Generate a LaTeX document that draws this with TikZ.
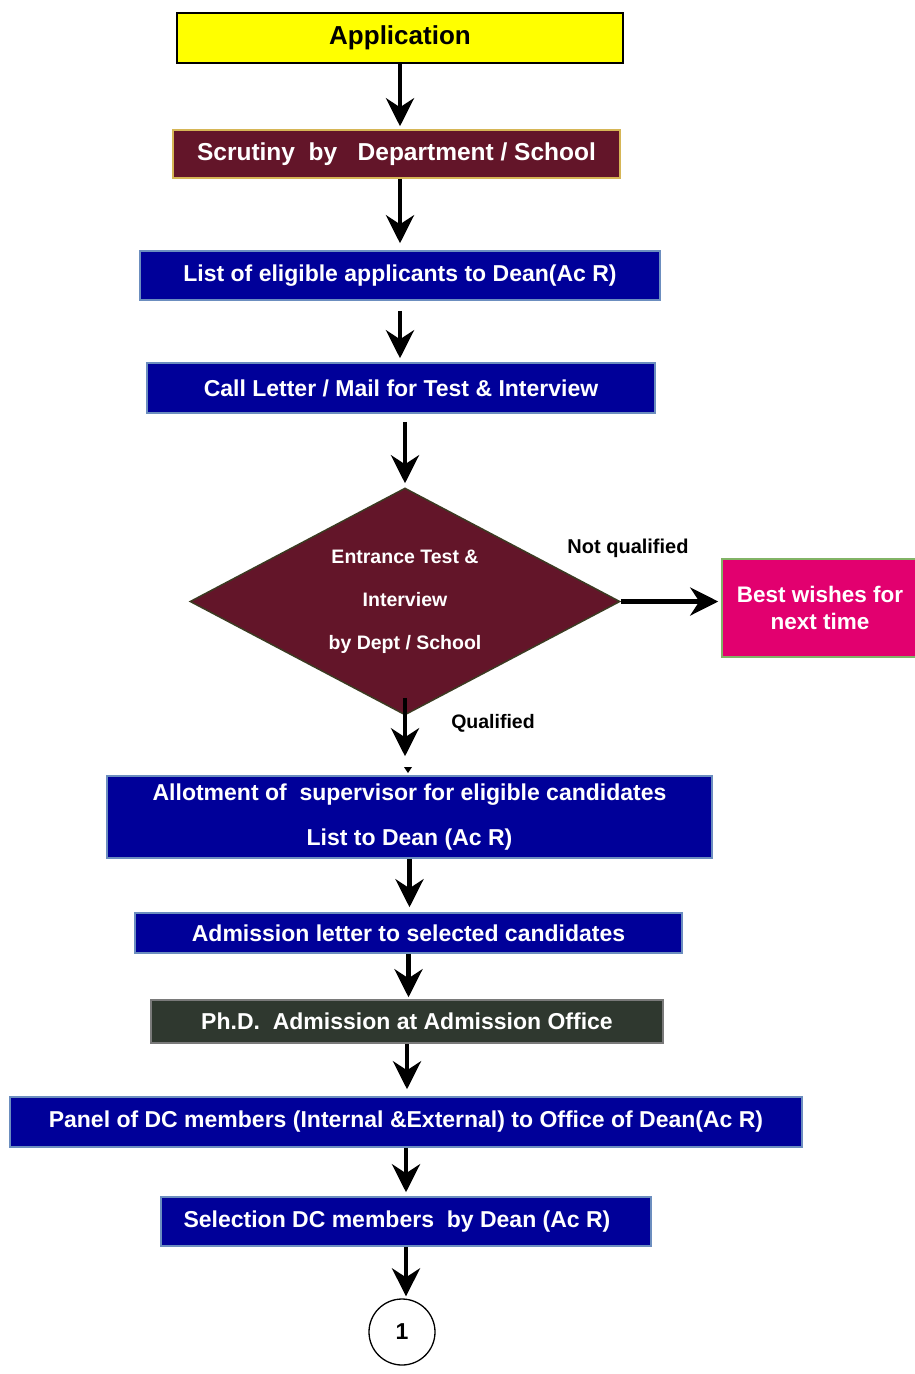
\documentclass[tikz,border=0pt]{standalone}
\usepackage{fontspec}
\setmainfont{Liberation Sans}
\usetikzlibrary{shapes.geometric,arrows.meta}
\definecolor{yel}{HTML}{FFFF00}
\definecolor{maroon}{HTML}{631529}
\definecolor{goldb}{HTML}{D6B656}
\definecolor{bluef}{HTML}{000099}
\definecolor{blueb}{HTML}{6C8EBF}
\definecolor{pinkf}{HTML}{E2006F}
\definecolor{greenb}{HTML}{82B366}
\definecolor{darkf}{HTML}{2F382F}
\definecolor{darkb}{HTML}{7A7A7A}
\definecolor{diab}{HTML}{3C3A22}
\begin{document}
\begin{tikzpicture}[x=1pt,y=-1pt,
  box/.style={draw, line width=1.5pt, inner sep=0pt, align=center, text=white,
    font=\fontsize{23}{27}\selectfont\bfseries},
  bluebox/.style={box, fill=bluef, draw=blueb},
  lbl/.style={inner sep=0pt, text=black, font=\fontsize{20}{24}\selectfont\bfseries},
  arr/.style={line width=4.5pt, -{Stealth[length=28pt,width=28pt,inset=9pt]}}]
\useasboundingbox[fill=white] (0,0) rectangle (915,1374);

\node[box, fill=yel, draw=black, text=black, minimum width=446pt, minimum height=50pt,
  font=\fontsize{26}{30}\selectfont\bfseries] (app) at (400,38) {Application};
\node[box, fill=maroon, draw=goldb, minimum width=447pt, minimum height=48pt,
  font=\fontsize{24.5}{28}\selectfont\bfseries] (scr) at (396.5,154) {Scrutiny\ \ by\ \ \ Department / School};
\node[bluebox, minimum width=520pt, minimum height=49pt] (list) at (400,275.5) {List of eligible applicants to Dean(Ac R)};
\node[bluebox, minimum width=508pt, minimum height=50pt] (call) at (401,388) {Call Letter / Mail for Test \& Interview};
\node[diamond, aspect=1.9, draw=diab, line width=1.5pt, fill=maroon, minimum width=430pt, minimum height=227pt,
  inner sep=0pt, align=center, text=white, font=\fontsize{19.5}{43}\selectfont\bfseries]
  (dia) at (405,601.5) {Entrance Test \&\\Interview\\by Dept / School};
\node[box, fill=pinkf, draw=greenb, minimum width=196pt, minimum height=98pt,
  font=\fontsize{22.5}{27}\selectfont\bfseries] (best) at (820,608) {Best wishes for\\next time};
\node[bluebox, minimum width=605pt, minimum height=82pt, font=\fontsize{23}{45}\selectfont\bfseries]
  (allot) at (409.5,817) {Allotment of\ \ supervisor for eligible candidates\\List to Dean (Ac R)};
\node[bluebox, minimum width=547pt, minimum height=40pt] (adm) at (408.5,933) {Admission letter to selected candidates};
\node[box, fill=darkf, draw=darkb, minimum width=512pt, minimum height=43pt] (phd) at (407,1021.5) {Ph.D.\ \ Admission at Admission Office};
\node[bluebox, minimum width=792pt, minimum height=50pt] (panel) at (406,1122) {Panel of DC members (Internal \&External) to Office of Dean(Ac R)};
\node[bluebox, minimum width=490pt, minimum height=49pt] (sel) at (406,1221.5) {Selection DC members\ \ by Dean (Ac R)\hspace*{18pt}};
\node[circle, draw=black, line width=1.3pt, minimum size=66pt, inner sep=0pt,
  font=\fontsize{23}{27}\selectfont\bfseries] (c1) at (402,1332) {1};

\node[lbl] (nq) at (628,548) {Not qualified};
\node[lbl, font=\fontsize{19.5}{24}\selectfont\bfseries] (q) at (493,723) {Qualified};

\draw[arr, shorten >=3pt] (app.south) -- (app.south |- scr.north);
\draw[arr, shorten >=7pt] (list.north |- scr.south) -- (list.north);
\draw[arr, shorten <=10pt, shorten >=4pt] (list.south) -- (list.south |- call.north);
\draw[arr, shorten <=8pt, shorten >=4pt] (dia.north |- call.south) -- (dia.north);
\draw[arr, shorten >=3pt] (dia.east) -- (dia.east -| best.west);
\draw[arr, shorten <=-18pt, shorten >=19pt] (dia.south) -- (dia.south |- allot.north);
\fill[black] (404,767) -- (412,767) -- (408,773) -- cycle;
\draw[arr, shorten >=5pt] (allot.south) -- (allot.south |- adm.north);
\draw[arr, shorten >=2pt] (adm.south) -- (adm.south |- phd.north);
\draw[arr, shorten >=7pt] (phd.south) -- (phd.south |- panel.north);
\draw[arr, shorten >=4pt] (panel.south) -- (panel.south |- sel.north);
\draw[arr, shorten >=2pt] (sel.south) -- (sel.south |- c1.north);
\end{tikzpicture}
\end{document}
